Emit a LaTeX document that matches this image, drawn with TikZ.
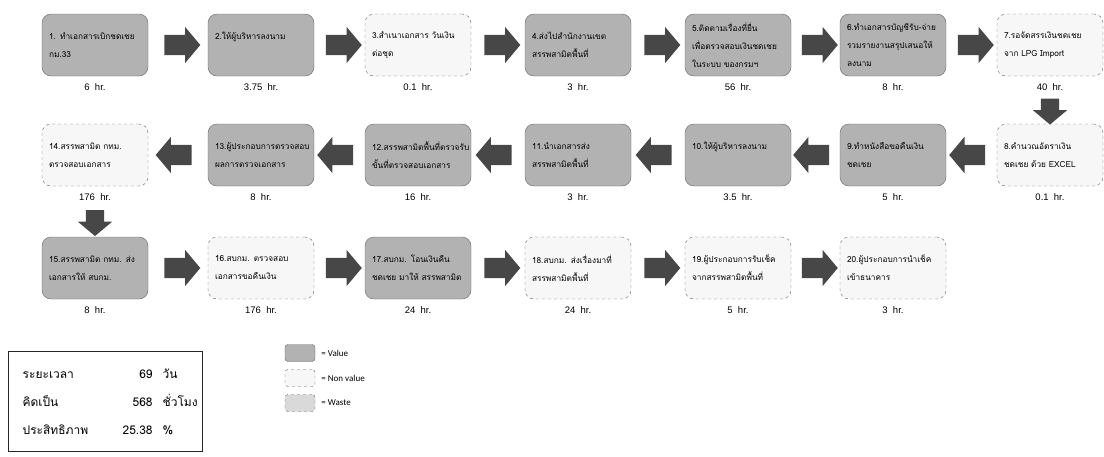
\documentclass[tikz,border=0pt]{standalone}
\usepackage{fontspec}
\usepackage{tikz}
\usetikzlibrary{positioning,shapes.arrows,calc}
\newfontfamily\thaifont[Script=Thai]{Loma}
\newfontfamily\hrfont{Liberation Sans}
\newfontfamily\keyfont{Carlito}

\tikzset{
  valuebox/.style={draw=black!60,fill=gray!60,rounded corners=9,minimum width=106,minimum height=62,
    text width=92,align=left,font=\thaifont\fontsize{8.3}{18}\selectfont},
  nonvaluebox/.style={valuebox,draw=black!60,dashed,fill=gray!6},
  hrs/.style={font=\hrfont\fontsize{9.5}{11}\selectfont,inner sep=1pt},
  goright/.style={single arrow,draw=none,fill=black!72,minimum height=36,minimum width=36,
    single arrow head extend=8,single arrow tip angle=100,inner xsep=0,inner ysep=10},
  goleft/.style={goright,shape border rotate=180},
  godown/.style={goright,shape border rotate=270,minimum height=26,minimum width=32,inner xsep=9,inner ysep=0},
  keybox/.style={draw=black!60,fill=gray!60,rounded corners=3,minimum width=30,minimum height=17,inner sep=0},
  keytext/.style={font=\keyfont\fontsize{9}{10}\selectfont,inner sep=1pt}
}

\begin{document}
\begin{tikzpicture}[x=1pt,y=-1pt]
\useasboundingbox (0,0) rectangle (1104,456);

\node[valuebox] (b1) at (95,45) {1. ทำเอกสารเบิกชดเชย\\กม.33};
\node[valuebox] (b2) at (261,45) {2.ให้ผู้บริหารลงนาม\\~};
\node[nonvaluebox] (b3) at (418,45) {3.สำเนาเอกสาร วันเงิน\\ต่อชุด};
\node[valuebox] (b4) at (578,45) {4.ส่งไปสำนักงานเขต\\สรรพสามิตพื้นที่};
\node[valuebox] (b5) at (738,45) {5.ติดตามเรื่องที่ยื่น\\เพื่อตรวจสอบเงินชดเชย\\ในระบบ ของกรมฯ};
\node[valuebox] (b6) at (893,45) {6.ทำเอกสารบัญชีรับ-จ่าย\\รวมรายงานสรุปเสนอให้\\ลงนาม};
\node[nonvaluebox] (b7) at (1050,45) {7.รอจัดสรรเงินชดเชย\\จาก LPG Import};

\node[nonvaluebox] (b8) at (1050,155) {8.คำนวณอัตราเงิน\\ชดเชย ด้วย EXCEL};
\node[valuebox] (b9) at (893,155) {9.ทำหนังสือขอคืนเงิน\\ชดเชย};
\node[valuebox] (b10) at (738,155) {10.ให้ผู้บริหารลงนาม\\~};
\node[valuebox] (b11) at (578,155) {11.นำเอกสารส่ง\\สรรพสามิตพื้นที่};
\node[valuebox] (b12) at (418,155) {12.สรรพสามิตพื้นที่ตรวจรับ\\ขั้นที่ตรวจสอบเอกสาร};
\node[valuebox] (b13) at (261,155) {13.ผู้ประกอบการตรวจสอบ\\ผลการตรวจเอกสาร};
\node[nonvaluebox] (b14) at (95,155) {14.สรรพสามิต กทม.\\ตรวจสอบเอกสาร};

\node[valuebox] (b15) at (95,268) {15.สรรพสามิต กทม. ส่ง\\เอกสารให้ สบกม.};
\node[nonvaluebox] (b16) at (261,268) {16.สบกม. ตรวจสอบ\\เอกสารขอคืนเงิน};
\node[valuebox] (b17) at (418,268) {17.สบกม. โอนเงินคืน\\ชดเชย มาให้ สรรพสามิต};
\node[nonvaluebox] (b18) at (578,268) {18.สบกม. ส่งเรื่องมาที่\\สรรพสามิตพื้นที่};
\node[nonvaluebox] (b19) at (738,268) {19.ผู้ประกอบการรับเช็ค\\จากสรรพสามิตพื้นที่};
\node[nonvaluebox] (b20) at (893,268) {20.ผู้ประกอบการนำเช็ค\\เข้าธนาคาร};

\foreach \b/\h in {b1/6,b2/3.75,b3/0.1,b4/3,b5/56,b6/8,b7/40,b8/0.1,b9/5,b10/3.5,
  b11/3,b12/16,b13/8,b14/176,b15/8,b16/176,b17/24,b18/24,b19/5,b20/3}
  \node[hrs,below=6pt of \b] (h\b) {\h~~hr.};

\foreach \i/\j in {b1/b2,b2/b3,b3/b4,b4/b5,b5/b6,b6/b7,b15/b16,b16/b17,b17/b18,b18/b19,b19/b20}
  \node[goright] (a\i) at ($(\i.east)!.5!(\j.west)$) {};
\foreach \i/\j in {b8/b9,b9/b10,b10/b11,b11/b12,b12/b13,b13/b14}
  \node[goleft] (a\i) at ($(\i.west)!.5!(\j.east)$) {};
\node[godown] (ab7) at ($(hb7.south)!.5!(b8.north)$) {};
\node[godown] (ab14) at ($(hb14.south)!.5!(b15.north)$) {};

\node[draw=black!85,anchor=north west,inner sep=0,minimum width=194,minimum height=100,
  font=\thaifont\fontsize{12}{28}\selectfont] (sum) at (8,351)
  {\begin{tabular}{@{\hspace{12pt}}p{100pt}@{}r@{\hspace{10pt}}l@{\hspace{2pt}}}
   ระยะเวลา & 69 & วัน\\
   คิดเป็น & 568 & ชั่วโมง\\
   ประสิทธิภาพ & 25.38 & \%
   \end{tabular}};

\node[keybox] (k1) at (300,353) {};
\node[keybox,dashed,fill=gray!6] (k2) at (300,378) {};
\node[keybox,dashed,fill=gray!30] (k3) at (300,403) {};
\node[keytext,right=5pt of k1] (t1) {= Value};
\node[keytext,right=5pt of k2] (t2) {= Non value};
\node[keytext,right=5pt of k3] (t3) {= Waste};
\end{tikzpicture}
\end{document}
